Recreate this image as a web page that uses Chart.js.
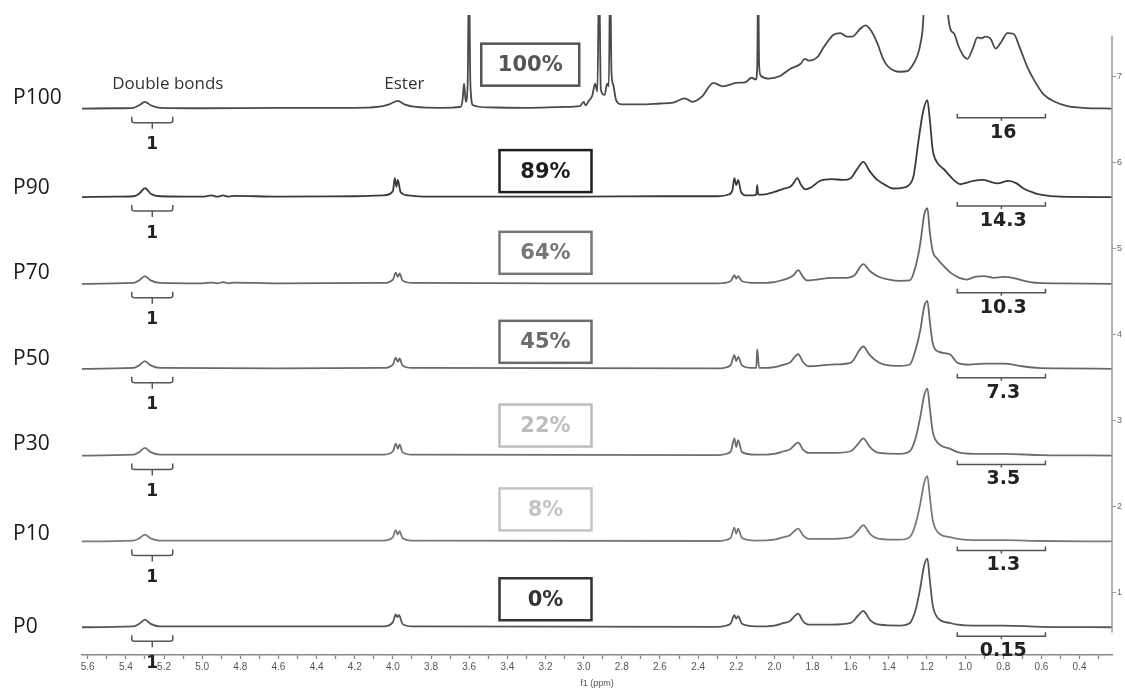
<!DOCTYPE html>
<html>
<head>
<meta charset="utf-8">
<script src="https://cdn.jsdelivr.net/npm/chart.js@4"></script>
<style>
  html, body { margin: 0; padding: 0; background: #fff; }
  canvas { display: block; }
</style>
</head>
<body>
<canvas id="nmr" width="1125" height="689"></canvas>
<script>
// Stacked 1H NMR spectra, P100 on top down to P0. Each trace is [ppm, intensity above its own baseline].

const samples = ['P100', 'P90', 'P70', 'P50', 'P30', 'P10', 'P0'];
const baselines = [6.63, 5.60, 4.59, 3.60, 2.59, 1.59, 0.59];
const conversions = ['100%', '89%', '64%', '45%', '22%', '8%', '0%'];
const dbIntegrals = ['1', '1', '1', '1', '1', '1', '1'];
const aliphIntegrals = ['16', '14.3', '10.3', '7.3', '3.5', '1.3', '0.15'];

const xTickLabels = ['5.6', '5.4', '5.2', '5.0', '4.8', '4.6', '4.4', '4.2', '4.0', '3.8', '3.6', '3.4', '3.2', '3.0',
  '2.8', '2.6', '2.4', '2.2', '2.0', '1.8', '1.6', '1.4', '1.2', '1.0', '0.8', '0.6', '0.4'];
const yTickLabels = [1, 2, 3, 4, 5, 6, 7];

const traceP100 = [[5.63,0],[5.45,0.005],[5.36,0.01],[5.33,0.04],[5.30,0.08],[5.27,0.04],[5.22,0.01],[5.0,0.005],[4.6,0.01],[4.2,0.01],
  [4.08,0.02],[4.02,0.05],[3.974,0.09],[3.94,0.05],[3.88,0.02],[3.75,0.01],[3.645,0.02],[3.635,0.1],[3.627,0.29],[3.618,0.08],
  [3.608,0.3],[3.601,1.6],[3.594,0.3],[3.58,0.04],[3.5,0.015],[3.3,0.01],[3.1,0.02],[3.02,0.03],[3.0,0.08],[2.99,0.04],
  [2.97,0.1],[2.955,0.15],[2.94,0.29],[2.928,0.2],[2.919,1.6],[2.91,0.22],[2.89,0.16],[2.877,0.29],[2.868,0.26],[2.861,1.6],
  [2.854,0.42],[2.845,0.28],[2.83,0.1],[2.8,0.05],[2.7,0.05],[2.6,0.06],[2.53,0.07],[2.47,0.12],[2.43,0.08],[2.38,0.14],
  [2.32,0.3],[2.27,0.26],[2.2,0.3],[2.15,0.31],[2.12,0.36],[2.097,0.34],[2.09,0.5],[2.085,1.6],[2.08,0.5],[2.07,0.38],
  [2.03,0.35],[1.97,0.38],[1.92,0.46],[1.864,0.52],[1.84,0.58],[1.82,0.56],[1.775,0.6],[1.74,0.72],[1.69,0.86],[1.655,0.88],
  [1.62,0.84],[1.592,0.84],[1.55,0.93],[1.523,0.97],[1.49,0.9],[1.46,0.76],[1.43,0.58],[1.408,0.5],[1.37,0.44],[1.34,0.43],
  [1.30,0.44],[1.277,0.5],[1.25,0.62],[1.234,0.76],[1.219,1.06],[1.20,2.5],[1.10,2.5],[1.088,1.06],[1.06,0.88],[1.035,0.73],
  [1.01,0.62],[0.988,0.58],[0.96,0.7],[0.936,0.83],[0.915,0.82],[0.895,0.84],[0.868,0.82],[0.84,0.7],[0.81,0.78],[0.778,0.88],
  [0.745,0.87],[0.715,0.72],[0.673,0.48],[0.63,0.3],[0.59,0.17],[0.53,0.08],[0.464,0.03],[0.38,0.01],[0.23,0]];

const traceP90 = [[5.63,0],[5.45,0.005],[5.36,0.01],[5.33,0.04],[5.30,0.105],[5.27,0.04],[5.22,0.01],[5.0,0.005],[4.95,0.02],[4.92,0.005],
  [4.89,0.02],[4.86,0.005],[4.83,0.015],[4.6,0.005],[4.2,0.01],[4.05,0.02],[4.0,0.07],[3.99,0.22],[3.982,0.12],[3.974,0.2],
  [3.96,0.06],[3.92,0.02],[3.8,0.005],[3.0,0.005],[2.6,0.01],[2.3,0.01],[2.24,0.03],[2.22,0.08],[2.21,0.22],[2.20,0.14],
  [2.19,0.2],[2.175,0.06],[2.15,0.02],[2.11,0.02],[2.095,0.03],[2.09,0.14],[2.085,0.03],[2.06,0.03],[2.0,0.06],[1.95,0.1],
  [1.917,0.12],[1.90,0.16],[1.88,0.22],[1.86,0.14],[1.838,0.09],[1.81,0.11],[1.76,0.19],[1.70,0.21],[1.64,0.2],[1.60,0.22],
  [1.565,0.33],[1.534,0.41],[1.50,0.3],[1.46,0.2],[1.41,0.13],[1.377,0.1],[1.324,0.11],[1.30,0.13],[1.27,0.25],[1.245,0.65],
  [1.22,1.0],[1.198,1.13],[1.185,0.9],[1.17,0.55],[1.156,0.44],[1.13,0.36],[1.114,0.33],[1.06,0.2],[1.025,0.15],[0.99,0.17],
  [0.957,0.19],[0.904,0.2],[0.87,0.18],[0.831,0.16],[0.773,0.19],[0.73,0.16],[0.694,0.1],[0.64,0.05],[0.605,0.03],[0.5,0.005],[0.23,0]];

const traceP70 = [[5.63,0],[5.36,0.01],[5.33,0.04],[5.30,0.09],[5.27,0.04],[5.22,0.01],[5.0,0.005],[4.95,0.015],[4.92,0.005],[4.89,0.02],
  [4.86,0.005],[4.83,0.015],[4.6,0.005],[4.05,0.01],[4.0,0.05],[3.985,0.13],[3.974,0.08],[3.965,0.12],[3.95,0.04],[3.9,0.01],
  [3.0,0.005],[2.3,0.005],[2.23,0.03],[2.21,0.1],[2.20,0.06],[2.19,0.09],[2.17,0.03],[2.1,0.01],[2.0,0.02],[1.95,0.05],
  [1.933,0.06],[1.90,0.1],[1.875,0.16],[1.85,0.08],[1.83,0.04],[1.78,0.05],[1.70,0.07],[1.62,0.07],[1.58,0.1],[1.534,0.23],
  [1.50,0.15],[1.45,0.08],[1.40,0.05],[1.34,0.035],[1.29,0.04],[1.26,0.2],[1.235,0.47],[1.215,0.8],[1.198,0.88],[1.185,0.6],
  [1.17,0.38],[1.145,0.29],[1.10,0.18],[1.077,0.13],[1.03,0.07],[0.99,0.05],[0.95,0.08],[0.90,0.09],[0.85,0.07],[0.80,0.08],
  [0.75,0.07],[0.70,0.04],[0.62,0.01],[0.5,0.005],[0.23,0]];

const traceP50 = [[5.63,0],[5.36,0.01],[5.33,0.04],[5.30,0.09],[5.27,0.04],[5.22,0.01],[4.6,0.005],[4.05,0.01],[4.0,0.05],[3.985,0.13],
  [3.974,0.08],[3.965,0.12],[3.95,0.04],[3.9,0.01],[2.3,0.005],[2.23,0.04],[2.21,0.16],[2.20,0.09],[2.19,0.14],[2.17,0.04],
  [2.12,0.01],[2.095,0.01],[2.09,0.23],[2.08,0.01],[2.0,0.02],[1.95,0.05],[1.92,0.07],[1.875,0.17],[1.85,0.08],[1.82,0.03],
  [1.70,0.05],[1.60,0.07],[1.534,0.26],[1.50,0.16],[1.45,0.07],[1.40,0.04],[1.34,0.035],[1.29,0.05],[1.26,0.22],[1.235,0.45],
  [1.215,0.72],[1.198,0.79],[1.185,0.55],[1.17,0.3],[1.14,0.2],[1.08,0.17],[1.04,0.07],[0.98,0.05],[0.9,0.06],[0.8,0.06],
  [0.7,0.03],[0.62,0.01],[0.5,0.005],[0.23,0]];

const traceP30 = [[5.63,0],[5.36,0.01],[5.33,0.04],[5.30,0.09],[5.27,0.04],[5.22,0.01],[4.05,0.01],[4.0,0.05],[3.985,0.14],[3.974,0.08],
  [3.965,0.13],[3.95,0.04],[3.9,0.01],[2.3,0.005],[2.23,0.04],[2.21,0.2],[2.20,0.1],[2.19,0.18],[2.17,0.04],[2.1,0.01],
  [2.0,0.02],[1.95,0.05],[1.92,0.07],[1.875,0.15],[1.85,0.07],[1.82,0.03],[1.70,0.03],[1.6,0.05],[1.56,0.14],[1.534,0.2],
  [1.52,0.17],[1.50,0.1],[1.45,0.03],[1.34,0.02],[1.29,0.05],[1.26,0.2],[1.235,0.45],[1.215,0.7],[1.198,0.78],[1.185,0.55],
  [1.17,0.28],[1.14,0.14],[1.08,0.08],[1.04,0.04],[0.95,0.02],[0.8,0.02],[0.6,0.005],[0.23,0]];

const traceP10 = [[5.63,0],[5.36,0.01],[5.33,0.035],[5.30,0.08],[5.27,0.035],[5.22,0.01],[4.05,0.01],[4.0,0.05],[3.985,0.13],[3.974,0.08],
  [3.965,0.12],[3.95,0.04],[3.9,0.01],[2.3,0.005],[2.23,0.04],[2.21,0.16],[2.20,0.09],[2.19,0.15],[2.17,0.04],[2.1,0.01],
  [2.0,0.02],[1.95,0.05],[1.92,0.07],[1.875,0.15],[1.85,0.07],[1.82,0.03],[1.70,0.03],[1.6,0.05],[1.56,0.13],[1.534,0.19],
  [1.52,0.16],[1.50,0.09],[1.45,0.03],[1.34,0.02],[1.29,0.05],[1.26,0.2],[1.235,0.44],[1.215,0.68],[1.198,0.76],[1.185,0.52],
  [1.17,0.25],[1.14,0.1],[1.08,0.05],[1.04,0.03],[0.95,0.015],[0.8,0.015],[0.6,0.005],[0.23,0]];

const traceP0 = [[5.63,0],[5.36,0.01],[5.33,0.04],[5.30,0.09],[5.27,0.04],[5.22,0.01],[4.05,0.01],[4.0,0.06],[3.985,0.15],[3.978,0.12],
  [3.968,0.14],[3.95,0.04],[3.9,0.01],[2.3,0.005],[2.23,0.04],[2.21,0.14],[2.20,0.1],[2.19,0.13],[2.17,0.04],[2.1,0.01],
  [2.0,0.02],[1.95,0.05],[1.92,0.07],[1.875,0.16],[1.85,0.07],[1.82,0.03],[1.70,0.03],[1.6,0.05],[1.56,0.14],[1.534,0.19],
  [1.52,0.16],[1.50,0.09],[1.45,0.03],[1.34,0.02],[1.29,0.05],[1.26,0.2],[1.235,0.46],[1.215,0.72],[1.198,0.8],[1.185,0.55],
  [1.17,0.26],[1.14,0.1],[1.08,0.05],[1.04,0.03],[0.95,0.02],[0.8,0.02],[0.6,0.005],[0.23,0]];

const traces = [traceP100, traceP90, traceP70, traceP50, traceP30, traceP10, traceP0];

// styling
const LINE_COLORS = ['#4a4a4a', '#3a3a3a', '#686868', '#686868', '#6e6e6e', '#7a7a7a', '#555555'];
const BOX_COLORS = ['#555555', '#1e1e1e', '#777777', '#6c6c6c', '#bdbdbd', '#c4c4c4', '#333333'];
const LABEL_LIFT = [11, 9, 11, 10, 12, 7, 0];     // px above baseline for sample names
const BOX_LIFT = [44, 26, 31, 27, 30, 32, 28];     // px above baseline for box centre
const BOX_PPM = [3.28, 3.20, 3.20, 3.20, 3.20, 3.20, 3.20];
const DB_RANGE = [5.369, 5.154];
const ALIPH_RANGE = [1.041, 0.579];

const xMajor = xTickLabels.map(Number);
const xAllTicks = xMajor.flatMap(v => [v, +(v - 0.1).toFixed(1)]);

function drawBracketDB(ctx, x1, x2, yb) {
    const xm = (x1 + x2) / 2;
    ctx.beginPath();
    ctx.moveTo(x1, yb + 8);
    ctx.lineTo(x1, yb + 12);
    ctx.quadraticCurveTo(x1, yb + 14, x1 + 3, yb + 14);
    ctx.lineTo(x2 - 3, yb + 14);
    ctx.quadraticCurveTo(x2, yb + 14, x2, yb + 12);
    ctx.lineTo(x2, yb + 8);
    ctx.moveTo(xm, yb + 14);
    ctx.lineTo(xm, yb + 20);
    ctx.stroke();
}

function drawBracketAliph(ctx, x1, x2, yb) {
    const xm = (x1 + x2) / 2;
    ctx.beginPath();
    ctx.moveTo(x1, yb + 5);
    ctx.lineTo(x1, yb + 9);
    ctx.lineTo(x2, yb + 9);
    ctx.lineTo(x2, yb + 5);
    ctx.moveTo(xm, yb + 9);
    ctx.lineTo(xm, yb + 12);
    ctx.stroke();
}

const decorations = {
    id: 'decorations',
    afterDatasetsDraw(chart) {
        const { ctx, scales: { x, y }, chartArea } = chart;
        ctx.save();

        // right-hand intensity axis line
        ctx.strokeStyle = '#9a9a9a';
        ctx.lineWidth = 1.5;
        ctx.beginPath();
        ctx.moveTo(chartArea.right, y.getPixelForValue(7.48));
        ctx.lineTo(chartArea.right, y.getPixelForValue(0.53));
        ctx.stroke();

        ctx.textBaseline = 'middle';
        samples.forEach((name, i) => {
            const yb = y.getPixelForValue(baselines[i]);

            ctx.fillStyle = '#1a1a1a';
            ctx.font = '21px "Open Sans"';
            ctx.textAlign = 'left';
            ctx.fillText(name, 13, yb - LABEL_LIFT[i]);

            // conversion box
            const bx = x.getPixelForValue(BOX_PPM[i]);
            const by = yb - BOX_LIFT[i];
            const bw = i === 0 ? 98 : 92;
            ctx.strokeStyle = BOX_COLORS[i];
            ctx.lineWidth = 2.5;
            ctx.strokeRect(bx - bw / 2, by - 21, bw, 42);
            ctx.fillStyle = BOX_COLORS[i];
            ctx.font = 'bold 21px "DejaVu Sans"';
            ctx.textAlign = 'center';
            ctx.fillText(conversions[i], bx, by + 1);

            // integration brackets
            ctx.strokeStyle = '#555';
            ctx.lineWidth = 1.5;
            drawBracketDB(ctx, x.getPixelForValue(DB_RANGE[0]), x.getPixelForValue(DB_RANGE[1]), yb);
            drawBracketAliph(ctx, x.getPixelForValue(ALIPH_RANGE[0]), x.getPixelForValue(ALIPH_RANGE[1]), yb);

            ctx.fillStyle = '#222';
            ctx.font = 'bold 17px "DejaVu Sans"';
            ctx.fillText(dbIntegrals[i], x.getPixelForValue((DB_RANGE[0] + DB_RANGE[1]) / 2), yb + 36);
            ctx.font = 'bold 19px "DejaVu Sans"';
            ctx.fillText(aliphIntegrals[i], x.getPixelForValue(0.80), yb + 24);
        });

        // peak labels over the top trace
        const yTop = y.getPixelForValue(baselines[0]);
        ctx.fillStyle = '#333';
        ctx.font = '17px "Open Sans"';
        ctx.textAlign = 'center';
        ctx.fillText('Double bonds', x.getPixelForValue(5.18), yTop - 25);
        ctx.fillText('Ester', x.getPixelForValue(3.94), yTop - 25);

        ctx.restore();
    }
};

new Chart(document.getElementById('nmr'), {
    type: 'line',
    data: {
        datasets: traces.map((pts, i) => ({
            label: samples[i],
            data: pts.map(([ppm, h]) => ({ x: ppm, y: baselines[i] + h })),
            borderColor: LINE_COLORS[i],
            borderWidth: 1.8,
            pointRadius: 0,
            cubicInterpolationMode: 'monotone',
            fill: false,
            clip: { left: 4, top: 20, right: 0, bottom: 4 }
        }))
    },
    options: {
        responsive: false,
        animation: false,
        devicePixelRatio: 1,
        layout: { padding: { left: 82, top: 35, right: 0, bottom: 0 } },
        plugins: { legend: { display: false }, tooltip: { enabled: false } },
        scales: {
            x: {
                type: 'linear',
                reverse: true,
                min: 0.23,
                max: 5.63,
                position: 'bottom',
                border: { color: '#8a8a8a', width: 1.5 },
                grid: { drawOnChartArea: false, tickLength: 4, color: '#8a8a8a', tickWidth: 1.3 },
                afterBuildTicks: (s) => { s.ticks = xAllTicks.map(v => ({ value: v })); },
                ticks: {
                    autoSkip: false,
                    maxRotation: 0,
                    padding: 2,
                    color: '#555',
                    font: { family: 'Liberation Sans', size: 10 },
                    callback: (v) => {
                        const t = Number(v).toFixed(1);
                        return xTickLabels.includes(t) ? t : '';
                    }
                },
                title: { display: true, text: 'f1 (ppm)', color: '#555', font: { family: 'Liberation Sans', size: 9 }, padding: 0 },
                afterFit: (s) => { s.height = 34; }
            },
            y: {
                type: 'linear',
                position: 'right',
                min: 0.267,
                max: 7.488,
                border: { display: false },
                grid: { drawOnChartArea: false, tickLength: 4, color: '#9a9a9a' },
                afterBuildTicks: (s) => { s.ticks = yTickLabels.map(v => ({ value: v })); },
                ticks: { padding: 1, color: '#666', font: { family: 'Liberation Sans', size: 9 } },
                afterFit: (s) => { s.width = 13; }
            }
        }
    },
    plugins: [decorations]
});
</script>
</body>
</html>
